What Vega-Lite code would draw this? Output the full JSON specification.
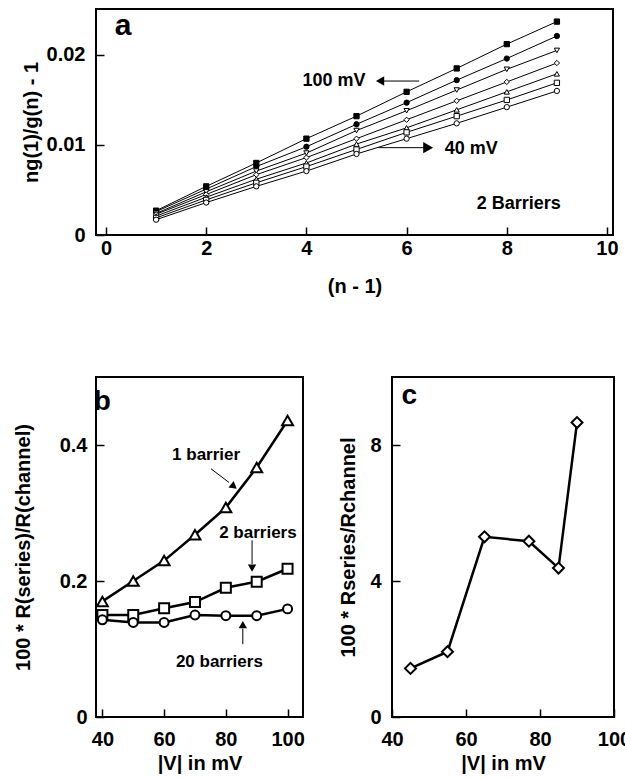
{
  "$schema": "https://vega.github.io/schema/vega-lite/v6.json",
  "background": "white",
  "padding": {"left": 12, "top": 8, "right": 0, "bottom": 0},
  "config": {
    "font": "Liberation Sans",
    "view": {"stroke": "black", "strokeWidth": 2},
    "axis": {
      "domain": false, "grid": false, "ticks": true, "tickColor": "black", "tickSize": -8, "tickWidth": 1.5,
      "labelColor": "black", "labelFont": "Liberation Sans", "labelFontSize": 20, "labelFontWeight": "bold", "labelPadding": 11,
      "titleColor": "black", "titleFont": "Liberation Sans", "titleFontSize": 20, "titleFontWeight": "bold"
    },
    "text": {"font": "Liberation Sans", "color": "black"}
  },
  "datasets": {
    "a": [
      {"s": "100 mV", "n": 1, "v": 0.0027}, {"s": "90 mV", "n": 1, "v": 0.0026}, {"s": "80 mV", "n": 1, "v": 0.0024}, {"s": "70 mV", "n": 1, "v": 0.0023}, {"s": "60 mV", "n": 1, "v": 0.0021}, {"s": "50 mV", "n": 1, "v": 0.0019}, {"s": "40 mV", "n": 1, "v": 0.0017},
      {"s": "100 mV", "n": 2, "v": 0.0054}, {"s": "90 mV", "n": 2, "v": 0.0051}, {"s": "80 mV", "n": 2, "v": 0.0048}, {"s": "70 mV", "n": 2, "v": 0.0045}, {"s": "60 mV", "n": 2, "v": 0.0042}, {"s": "50 mV", "n": 2, "v": 0.0039}, {"s": "40 mV", "n": 2, "v": 0.0036},
      {"s": "100 mV", "n": 3, "v": 0.0080}, {"s": "90 mV", "n": 3, "v": 0.0076}, {"s": "80 mV", "n": 3, "v": 0.0071}, {"s": "70 mV", "n": 3, "v": 0.0067}, {"s": "60 mV", "n": 3, "v": 0.0062}, {"s": "50 mV", "n": 3, "v": 0.0058}, {"s": "40 mV", "n": 3, "v": 0.0054},
      {"s": "100 mV", "n": 4, "v": 0.0107}, {"s": "90 mV", "n": 4, "v": 0.0098}, {"s": "80 mV", "n": 4, "v": 0.0091}, {"s": "70 mV", "n": 4, "v": 0.0086}, {"s": "60 mV", "n": 4, "v": 0.0080}, {"s": "50 mV", "n": 4, "v": 0.0076}, {"s": "40 mV", "n": 4, "v": 0.0071},
      {"s": "100 mV", "n": 5, "v": 0.0132}, {"s": "90 mV", "n": 5, "v": 0.0123}, {"s": "80 mV", "n": 5, "v": 0.0116}, {"s": "70 mV", "n": 5, "v": 0.0107}, {"s": "60 mV", "n": 5, "v": 0.0101}, {"s": "50 mV", "n": 5, "v": 0.0095}, {"s": "40 mV", "n": 5, "v": 0.0090},
      {"s": "100 mV", "n": 6, "v": 0.0159}, {"s": "90 mV", "n": 6, "v": 0.0147}, {"s": "80 mV", "n": 6, "v": 0.0138}, {"s": "70 mV", "n": 6, "v": 0.0128}, {"s": "60 mV", "n": 6, "v": 0.0119}, {"s": "50 mV", "n": 6, "v": 0.0114}, {"s": "40 mV", "n": 6, "v": 0.0107},
      {"s": "100 mV", "n": 7, "v": 0.0185}, {"s": "90 mV", "n": 7, "v": 0.0172}, {"s": "80 mV", "n": 7, "v": 0.0161}, {"s": "70 mV", "n": 7, "v": 0.0149}, {"s": "60 mV", "n": 7, "v": 0.0139}, {"s": "50 mV", "n": 7, "v": 0.0132}, {"s": "40 mV", "n": 7, "v": 0.0124},
      {"s": "100 mV", "n": 8, "v": 0.0212}, {"s": "90 mV", "n": 8, "v": 0.0196}, {"s": "80 mV", "n": 8, "v": 0.0184}, {"s": "70 mV", "n": 8, "v": 0.0170}, {"s": "60 mV", "n": 8, "v": 0.0159}, {"s": "50 mV", "n": 8, "v": 0.0150}, {"s": "40 mV", "n": 8, "v": 0.0142},
      {"s": "100 mV", "n": 9, "v": 0.0237}, {"s": "90 mV", "n": 9, "v": 0.0221}, {"s": "80 mV", "n": 9, "v": 0.0205}, {"s": "70 mV", "n": 9, "v": 0.0191}, {"s": "60 mV", "n": 9, "v": 0.0179}, {"s": "50 mV", "n": 9, "v": 0.0169}, {"s": "40 mV", "n": 9, "v": 0.0160}
    ],
    "aText": [
      {"t": "100 mV", "x": 4.55, "y": 0.0171},
      {"t": "40 mV", "x": 7.29, "y": 0.0096},
      {"t": "2 Barriers", "x": 8.24, "y": 0.0034}
    ],
    "aLabel": [{"t": "a", "x": 0.34, "y": 0.0232}],
    "aRules": [
      {"x": 6.25, "x2": 5.5, "y": 0.0171},
      {"x": 5.44, "x2": 6.4, "y": 0.0097}
    ],
    "aHeadLeft": [{"x": 5.47, "y": 0.0171}],
    "aHeadRight": [{"x": 6.43, "y": 0.0097}],
    "b": [
      {"s": "1 barrier", "V": 40, "r": 0.17}, {"s": "1 barrier", "V": 50, "r": 0.20}, {"s": "1 barrier", "V": 60, "r": 0.23}, {"s": "1 barrier", "V": 70, "r": 0.268}, {"s": "1 barrier", "V": 80, "r": 0.308}, {"s": "1 barrier", "V": 90, "r": 0.367}, {"s": "1 barrier", "V": 100, "r": 0.436},
      {"s": "2 barriers", "V": 40, "r": 0.15}, {"s": "2 barriers", "V": 50, "r": 0.15}, {"s": "2 barriers", "V": 60, "r": 0.16}, {"s": "2 barriers", "V": 70, "r": 0.169}, {"s": "2 barriers", "V": 80, "r": 0.19}, {"s": "2 barriers", "V": 90, "r": 0.199}, {"s": "2 barriers", "V": 100, "r": 0.218},
      {"s": "20 barriers", "V": 40, "r": 0.143}, {"s": "20 barriers", "V": 50, "r": 0.139}, {"s": "20 barriers", "V": 60, "r": 0.139}, {"s": "20 barriers", "V": 70, "r": 0.15}, {"s": "20 barriers", "V": 80, "r": 0.149}, {"s": "20 barriers", "V": 90, "r": 0.149}, {"s": "20 barriers", "V": 100, "r": 0.159}
    ],
    "bText": [
      {"t": "1 barrier", "x": 73.6, "y": 0.385},
      {"t": "2 barriers", "x": 90.4, "y": 0.27},
      {"t": "20 barriers", "x": 77.9, "y": 0.081}
    ],
    "bLabel": [{"t": "b", "x": 40, "y": 0.463}],
    "bRules": [
      {"x": 75.2, "y": 0.365, "x2": 81.0, "y2": 0.345},
      {"x": 88.5, "y": 0.26, "x2": 88.5, "y2": 0.225},
      {"x": 85.5, "y": 0.107, "x2": 85.5, "y2": 0.13}
    ],
    "bHeadDiag": [{"x": 82.6, "y": 0.339}],
    "bHeadDown": [{"x": 88.5, "y": 0.219}],
    "bHeadUp": [{"x": 85.5, "y": 0.136}],
    "c": [
      {"V": 45, "r": 1.43}, {"V": 55, "r": 1.92}, {"V": 65, "r": 5.3}, {"V": 77, "r": 5.17}, {"V": 85, "r": 4.38}, {"V": 90, "r": 8.66}
    ],
    "cLabel": [{"t": "c", "x": 44.7, "y": 9.44}]
  },
  "spacing": 79,
  "resolve": {"scale": {"shape": "independent", "fill": "independent", "size": "independent"}},
  "vconcat": [
    {
      "width": 517,
      "height": 226,
      "layer": [
        {
          "data": {"name": "a"},
          "mark": {"type": "line", "color": "black", "strokeWidth": 1},
          "encoding": {
            "x": {"field": "n", "type": "quantitative", "scale": {"domain": [-0.2, 10.12], "nice": false, "zero": false},
                  "axis": {"values": [0, 2, 4, 6, 8, 10], "title": "(n - 1)", "titlePadding": 18}},
            "y": {"field": "v", "type": "quantitative", "scale": {"domain": [0, 0.0251], "nice": false},
                  "axis": {"values": [0, 0.01, 0.02], "labelExpr": "datum.value == 0 ? '0' : format(datum.value, '.2f')", "title": "ng(1)/g(n) - 1", "labelPadding": 19, "titlePadding": 5}},
            "detail": {"field": "s"}
          }
        },
        {
          "data": {"name": "a"},
          "mark": {"type": "point", "filled": true, "stroke": "black", "strokeWidth": 1, "opacity": 1, "size": 28},
          "encoding": {
            "x": {"field": "n", "type": "quantitative"},
            "y": {"field": "v", "type": "quantitative"},
            "shape": {"field": "s", "type": "nominal", "legend": null,
                      "scale": {"domain": ["100 mV", "90 mV", "80 mV", "70 mV", "60 mV", "50 mV", "40 mV"],
                                "range": ["square", "circle", "triangle-down", "diamond", "triangle-up", "square", "circle"]}},
            "fill": {"field": "s", "type": "nominal", "legend": null,
                     "scale": {"domain": ["100 mV", "90 mV", "80 mV", "70 mV", "60 mV", "50 mV", "40 mV"],
                               "range": ["black", "black", "white", "white", "white", "white", "white"]}}
          }
        },
        {
          "data": {"name": "aRules"},
          "mark": {"type": "rule", "color": "black", "strokeWidth": 1},
          "encoding": {"x": {"field": "x", "type": "quantitative"}, "x2": {"field": "x2"}, "y": {"field": "y", "type": "quantitative"}}
        },
        {
          "data": {"name": "aHeadLeft"},
          "mark": {"type": "point", "shape": "triangle-left", "filled": true, "color": "black", "size": 90, "opacity": 1},
          "encoding": {"x": {"field": "x", "type": "quantitative"}, "y": {"field": "y", "type": "quantitative"}}
        },
        {
          "data": {"name": "aHeadRight"},
          "mark": {"type": "point", "shape": "triangle-right", "filled": true, "color": "black", "size": 130, "opacity": 1},
          "encoding": {"x": {"field": "x", "type": "quantitative"}, "y": {"field": "y", "type": "quantitative"}}
        },
        {
          "data": {"name": "aText"},
          "mark": {"type": "text", "fontSize": 18, "fontWeight": "bold", "align": "center", "baseline": "middle"},
          "encoding": {"x": {"field": "x", "type": "quantitative"}, "y": {"field": "y", "type": "quantitative"}, "text": {"field": "t"}}
        },
        {
          "data": {"name": "aLabel"},
          "mark": {"type": "text", "fontSize": 30, "fontWeight": "bold", "align": "center", "baseline": "middle"},
          "encoding": {"x": {"field": "x", "type": "quantitative"}, "y": {"field": "y", "type": "quantitative"}, "text": {"field": "t"}}
        }
      ]
    },
    {
      "spacing": 31,
      "hconcat": [
        {
          "width": 207,
          "height": 340,
          "layer": [
            {
              "data": {"name": "b"},
              "mark": {"type": "line", "color": "black", "strokeWidth": 2.5},
              "encoding": {
                "x": {"field": "V", "type": "quantitative", "scale": {"domain": [37.93, 105], "nice": false, "zero": false},
                      "axis": {"values": [40, 60, 80, 100], "title": "|V| in mV", "labelPadding": 20}},
                "y": {"field": "r", "type": "quantitative", "scale": {"domain": [0, 0.5], "nice": false},
                      "axis": {"values": [0, 0.2, 0.4], "labelExpr": "datum.value == 0 ? '0' : format(datum.value, '.1f')", "title": "100 * R(series)/R(channel)", "labelPadding": 17, "titlePadding": 26}},
                "detail": {"field": "s"}
              }
            },
            {
              "data": {"name": "b"},
              "mark": {"type": "point", "filled": true, "fill": "white", "stroke": "black", "strokeWidth": 2, "opacity": 1},
              "encoding": {
                "x": {"field": "V", "type": "quantitative"},
                "y": {"field": "r", "type": "quantitative"},
                "shape": {"field": "s", "type": "nominal", "legend": null,
                          "scale": {"domain": ["1 barrier", "2 barriers", "20 barriers"], "range": ["triangle-up", "square", "circle"]}},
                "size": {"field": "s", "type": "nominal", "legend": null,
                         "scale": {"domain": ["1 barrier", "2 barriers", "20 barriers"], "range": [120, 80, 75]}}
              }
            },
            {
              "data": {"name": "bRules"},
              "mark": {"type": "rule", "color": "black", "strokeWidth": 1},
              "encoding": {"x": {"field": "x", "type": "quantitative"}, "x2": {"field": "x2"}, "y": {"field": "y", "type": "quantitative"}, "y2": {"field": "y2"}}
            },
            {
              "data": {"name": "bHeadDiag"},
              "mark": {"type": "point", "shape": "triangle-up", "angle": 129, "filled": true, "color": "black", "size": 70, "opacity": 1},
              "encoding": {"x": {"field": "x", "type": "quantitative"}, "y": {"field": "y", "type": "quantitative"}}
            },
            {
              "data": {"name": "bHeadDown"},
              "mark": {"type": "point", "shape": "triangle-down", "filled": true, "color": "black", "size": 70, "opacity": 1},
              "encoding": {"x": {"field": "x", "type": "quantitative"}, "y": {"field": "y", "type": "quantitative"}}
            },
            {
              "data": {"name": "bHeadUp"},
              "mark": {"type": "point", "shape": "triangle-up", "filled": true, "color": "black", "size": 70, "opacity": 1},
              "encoding": {"x": {"field": "x", "type": "quantitative"}, "y": {"field": "y", "type": "quantitative"}}
            },
            {
              "data": {"name": "bText"},
              "mark": {"type": "text", "fontSize": 17, "fontWeight": "bold", "align": "center", "baseline": "middle"},
              "encoding": {"x": {"field": "x", "type": "quantitative"}, "y": {"field": "y", "type": "quantitative"}, "text": {"field": "t"}}
            },
            {
              "data": {"name": "bLabel"},
              "mark": {"type": "text", "fontSize": 28, "fontWeight": "bold", "align": "center", "baseline": "middle"},
              "encoding": {"x": {"field": "x", "type": "quantitative"}, "y": {"field": "y", "type": "quantitative"}, "text": {"field": "t"}}
            }
          ]
        },
        {
          "width": 222,
          "height": 340,
          "layer": [
            {
              "data": {"name": "c"},
              "mark": {"type": "line", "color": "black", "strokeWidth": 2.5},
              "encoding": {
                "x": {"field": "V", "type": "quantitative", "scale": {"domain": [40, 100], "nice": false, "zero": false},
                      "axis": {"values": [40, 60, 80, 100], "title": "|V| in mV", "labelPadding": 20, "labelFlush": false}},
                "y": {"field": "r", "type": "quantitative", "scale": {"domain": [0, 10], "nice": false},
                      "axis": {"values": [0, 4, 8], "title": "100 * Rseries/Rchannel", "labelPadding": 19, "titlePadding": 11}}
              }
            },
            {
              "data": {"name": "c"},
              "mark": {"type": "point", "shape": "diamond", "filled": true, "fill": "white", "stroke": "black", "strokeWidth": 2, "size": 120, "opacity": 1},
              "encoding": {"x": {"field": "V", "type": "quantitative"}, "y": {"field": "r", "type": "quantitative"}}
            },
            {
              "data": {"name": "cLabel"},
              "mark": {"type": "text", "fontSize": 28, "fontWeight": "bold", "align": "center", "baseline": "middle"},
              "encoding": {"x": {"field": "x", "type": "quantitative"}, "y": {"field": "y", "type": "quantitative"}, "text": {"field": "t"}}
            }
          ]
        }
      ]
    }
  ]
}
